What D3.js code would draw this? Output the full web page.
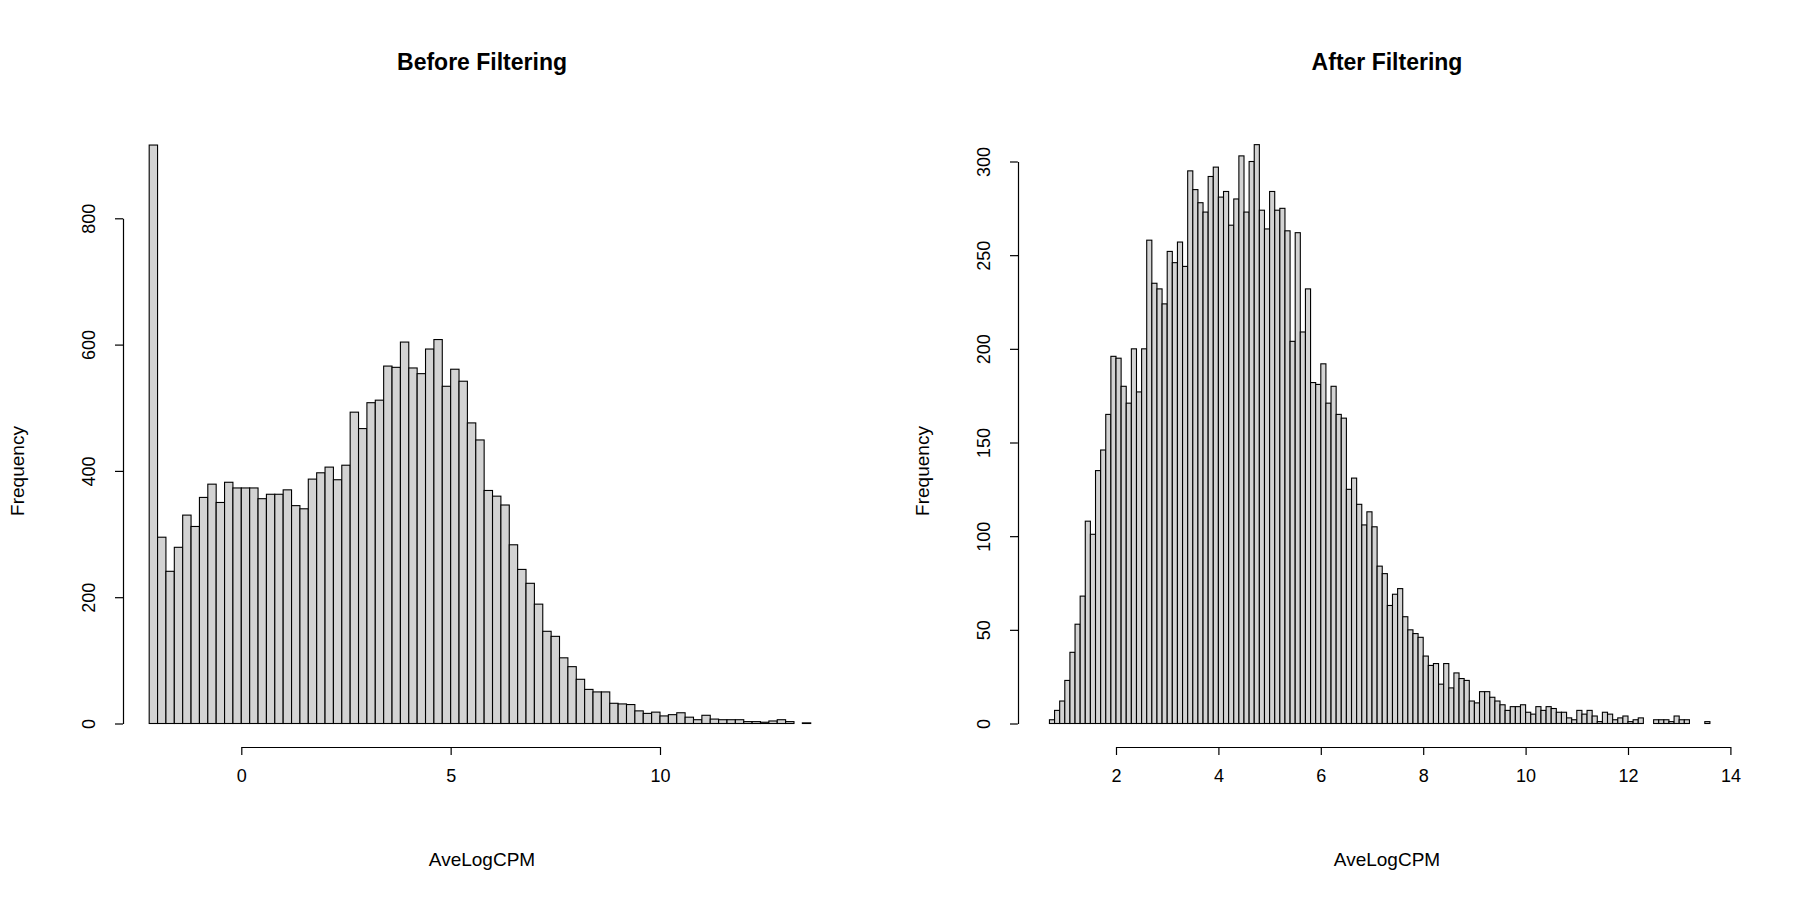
<!DOCTYPE html>
<html><head><meta charset="utf-8">
<script src="https://cdn.jsdelivr.net/npm/d3@7"></script>
<style>body{margin:0;background:#fff}svg{display:block}text{font-family:"Liberation Sans",Arial,sans-serif}</style>
</head><body>
<script>
// Before filtering: bins of 0.2 starting at -2.2
const beforeStart = -2.2, beforeWidth = 0.2;
const beforeCounts = [916,295,241,279,330,312,358,379,350,382,373,373,373,356,363,363,370,345,340,387,397,406,386,409,493,467,508,512,566,564,604,563,554,593,608,534,561,542,476,449,369,360,346,283,244,222,189,146,138,104,90,70,54,50,50,32,31,30,20,16,18,12,14,17,10,6,13,7,6,6,6,3,3,2,4,6,3,0,1];
const beforeXTicks = [0,5,10];
const beforeYTicks = [0,200,400,600,800];
// After filtering: bins of 0.1 starting at 0.7
const afterStart = 0.7, afterWidth = 0.1;
const afterCounts = [2,7,12,23,38,53,68,108,101,135,146,165,196,195,180,171,200,177,200,258,235,232,224,252,246,257,244,295,285,278,273,292,297,281,284,266,280,303,273,300,309,274,264,284,274,275,263,204,262,209,232,182,181,192,171,180,165,163,125,131,117,106,113,105,84,80,63,69,72,57,50,48,46,36,31,32,21,32,19,27,24,23,12,11,17,17,14,12,10,7,9,9,10,6,5,9,7,9,8,6,6,3,2,7,5,7,4,1,6,5,2,3,4,1,2,3,0,0,2,2,2,1,4,2,2,0,0,0,1];
const afterXTicks = [2,4,6,8,10,12,14];
const afterYTicks = [0,50,100,150,200,250,300];

const svg = d3.select("body").append("svg").attr("width",1800).attr("height",900);

function panel(o){
  const g = svg.append("g");
  const x = d3.scaleLinear().domain(o.xDom).range(o.xRange);
  const y = d3.scaleLinear().domain(o.yDom).range([723.5, o.yTop]);
  const bins = o.counts.map((c,i)=>({x0:o.start+i*o.w, x1:o.start+(i+1)*o.w, c}));
  g.selectAll("rect").data(bins).join("rect")
    .attr("x",d=>x(d.x0)).attr("width",d=>x(d.x1)-x(d.x0))
    .attr("y",d=>y(d.c)).attr("height",d=>y(0)-y(d.c))
    .attr("fill","#d3d3d3").attr("stroke","#000").attr("stroke-width",1.1);
  const xa = g.append("g").attr("transform","translate(0,747)")
    .call(d3.axisBottom(x).tickValues(o.xTicks).tickSize(8).tickSizeOuter(0).tickPadding(14));
  const ya = g.append("g").attr("transform",`translate(${o.yAxisX},0)`)
    .call(d3.axisLeft(y).tickValues(o.yTicks).tickSize(8).tickSizeOuter(0));
  [xa,ya].forEach(a=>{a.selectAll("path,line").attr("stroke","#000").attr("stroke-width",1.2);
    a.selectAll("text").attr("font-size",18).attr("fill","#000").attr("font-family","Liberation Sans, Arial, sans-serif");});
  ya.selectAll(".tick text").attr("text-anchor","middle").attr("x",0).attr("dy",0)
    .attr("transform",`translate(${-o.yLabOff},0) rotate(-90)`);
  g.append("text").attr("x",o.cx).attr("y",70).attr("text-anchor","middle")
    .attr("font-size",23).attr("font-weight","bold").text(o.title);
  g.append("text").attr("x",o.cx).attr("y",866).attr("text-anchor","middle")
    .attr("font-size",19).text("AveLogCPM");
  g.append("text").attr("transform",`translate(${o.freqX},471) rotate(-90)`).attr("text-anchor","middle")
    .attr("font-size",19).text("Frequency");
}
panel({xDom:[0,10],xRange:[241.3,660],yDom:[0,800],yTop:218.3,counts:beforeCounts,start:beforeStart,w:beforeWidth,
  xTicks:beforeXTicks,yTicks:beforeYTicks,yAxisX:123,yLabOff:28,title:"Before Filtering",cx:482,freqX:24});
panel({xDom:[2,14],xRange:[1116,1730.4],yDom:[0,300],yTop:161.5,counts:afterCounts,start:afterStart,w:afterWidth,
  xTicks:afterXTicks,yTicks:afterYTicks,yAxisX:1018,yLabOff:28,title:"After Filtering",cx:1387,freqX:929});
</script>
</body></html>
